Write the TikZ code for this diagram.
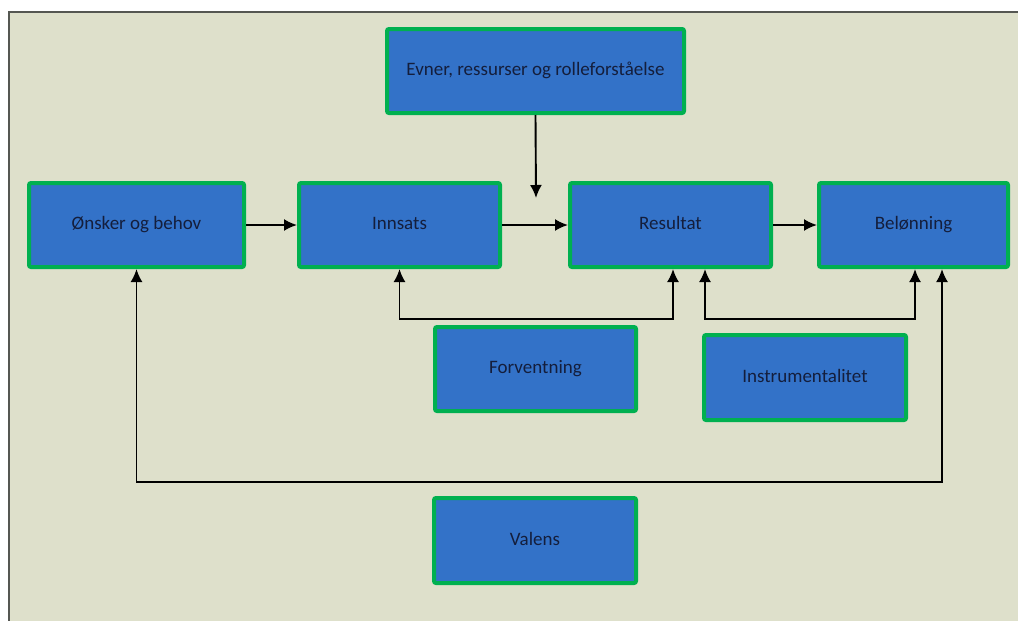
\documentclass[tikz,border=0pt]{standalone}
\usepackage{fontspec}
\setmainfont{Carlito}
\usepackage{xcolor}
\usepackage{tikz}
\usetikzlibrary{arrows, arrows.meta, positioning, calc}
\definecolor{boxblue}{RGB}{51,114,200}
\definecolor{boxgreen}{RGB}{0,176,80}
\definecolor{paper}{RGB}{222,224,203}
\definecolor{frame}{RGB}{85,87,82}
\definecolor{navy}{RGB}{20,30,60}
\tikzstyle{factor} = [rectangle, rounded corners=2pt, minimum height=84pt, inner sep=0pt, text height=13pt, text depth=4pt, text centered, text=navy, draw=boxgreen, line width=4pt, fill=boxblue, font=\fontsize{19}{22}\selectfont]
\tikzstyle{arrow} = [line width=1.9pt, -{Latex[length=13pt,width=12pt]}]
\tikzstyle{twoway} = [line width=1.9pt, {Latex[length=13pt,width=12pt]}-{Latex[length=13pt,width=12pt]}]

\begin{document}
\begin{tikzpicture}[x=1pt, y=-1pt]
      \useasboundingbox (0,0) rectangle (1018,621);

      % Background and frame
      \fill[paper] (9,12) rectangle (1018,621);
      \draw[frame, line width=2.8pt] (9,621) -- (9,12) -- (1018,12);

      % Boxes
      \node[factor, minimum width=297pt] (evner) at (535.5,71) {Evner, ressurser og rolleforståelse};
      \node[factor, minimum width=215pt] (onsker) at (136.5,225) {Ønsker og behov};
      \node[factor, minimum width=201pt] (innsats) at (399.5,225) {Innsats};
      \node[factor, minimum width=201pt] (resultat) at (670.5,225) {Resultat};
      \node[factor, minimum width=189pt] (belonning) at (913.5,225) {Belønning};
      \node[factor, minimum width=201pt] (forventning) at (535.5,369) {Forventning};
      \node[factor, minimum width=202pt, minimum height=85pt] (instrument) at (805,377.5) {Instrumentalitet};
      \node[factor, minimum width=202pt, minimum height=85pt] (valens) at (535,540.5) {Valens};

      % Main chain
      \draw[arrow] (onsker.east) -- (innsats.west);
      \draw[arrow] (innsats.east) -- (resultat.west);
      \draw[arrow] (resultat.east) -- (belonning.west);

      % Abilities arrow
      \coordinate (drop) at (536,198);
      \draw[arrow] (evner.south) -- (drop);

      % Feedback brackets
      \draw[twoway] (innsats.south) -- ++(0,50) -| ([xshift=2.5pt]resultat.south);
      \draw[twoway] ([xshift=34.5pt]resultat.south) -- ++(0,50) -| ([xshift=1.5pt]belonning.south);
      \draw[twoway] (onsker.south) -- ++(0,213) -| ([xshift=28.5pt]belonning.south);
\end{tikzpicture}
\end{document}
